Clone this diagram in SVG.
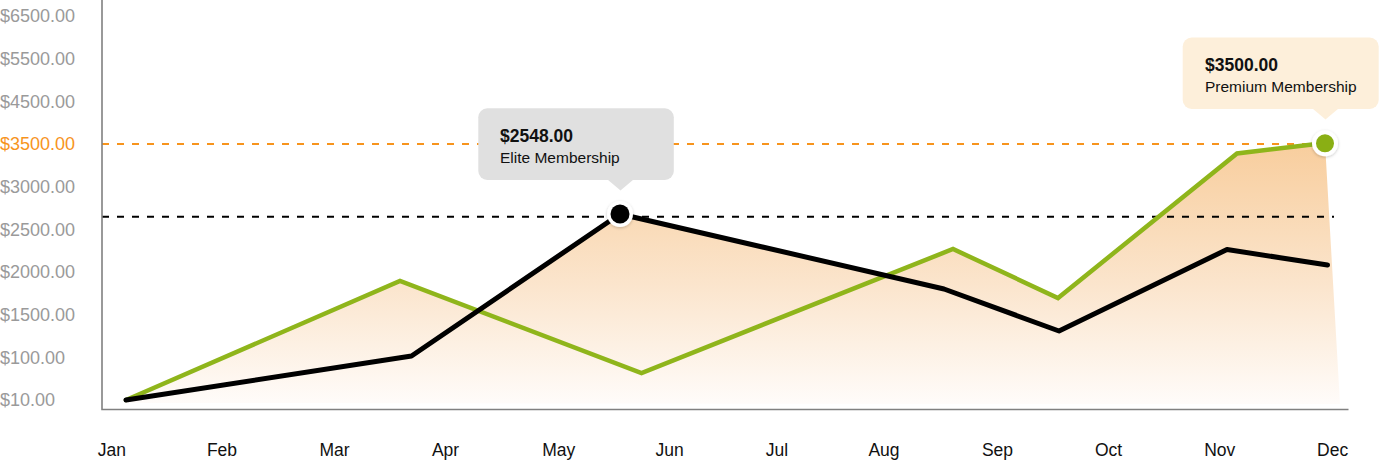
<svg xmlns="http://www.w3.org/2000/svg" width="1380" height="460" viewBox="0 0 1380 460">
  <style>
    .ylab { font-family: "Liberation Sans", Arial, Helvetica, sans-serif; font-size: 18px; fill: #9a9a9a; }
    .ylab.hl { fill: #f7941d; }
    .xlab { font-family: "Liberation Sans", Arial, Helvetica, sans-serif; font-size: 17.5px; fill: #111111; text-anchor: middle; }
    .tt-val { font-family: "Liberation Sans", Arial, Helvetica, sans-serif; font-size: 17.5px; font-weight: bold; fill: #111111; }
    .tt-name { font-family: "Liberation Sans", Arial, Helvetica, sans-serif; font-size: 15.5px; fill: #111111; }
    .axis { stroke: #808080; stroke-width: 1.6; fill: none; }
    .area { fill: url(#areaGrad); stroke: none; }
    .green { stroke: #8fb51b; stroke-width: 4.5; fill: none; stroke-linejoin: miter; stroke-linecap: round; }
    .black { stroke: #000000; stroke-width: 5; fill: none; stroke-linejoin: round; stroke-linecap: round; }
  </style>
  <defs>
    <linearGradient id="areaGrad" gradientUnits="userSpaceOnUse" x1="0" y1="140" x2="0" y2="405">
      <stop offset="0" stop-color="#f8cd9c"/>
      <stop offset="0.55" stop-color="#fbe5cd"/>
      <stop offset="1" stop-color="#fffcfa"/>
    </linearGradient>
    <filter id="shadow" x="-50%" y="-50%" width="200%" height="200%">
      <feDropShadow dx="0" dy="1" stdDeviation="1.6" flood-color="#000000" flood-opacity="0.22"/>
    </filter>
  </defs>

  <rect x="0" y="0" width="1380" height="460" fill="#ffffff"/>

  <g id="y-labels">
    <text class="ylab" x="0" y="22">$6500.00</text>
    <text class="ylab" x="0" y="65">$5500.00</text>
    <text class="ylab" x="0" y="107.5">$4500.00</text>
    <text class="ylab hl" x="0" y="150">$3500.00</text>
    <text class="ylab" x="0" y="193">$3000.00</text>
    <text class="ylab" x="0" y="235.5">$2500.00</text>
    <text class="ylab" x="0" y="278">$2000.00</text>
    <text class="ylab" x="0" y="321">$1500.00</text>
    <text class="ylab" x="0" y="363.5">$100.00</text>
    <text class="ylab" x="0" y="405.5">$10.00</text>
  </g>

  <g id="x-labels">
    <text class="xlab" x="111.8" y="456">Jan</text>
    <text class="xlab" x="222" y="456">Feb</text>
    <text class="xlab" x="334.5" y="456">Mar</text>
    <text class="xlab" x="445.5" y="456">Apr</text>
    <text class="xlab" x="558.8" y="456">May</text>
    <text class="xlab" x="669.7" y="456">Jun</text>
    <text class="xlab" x="777" y="456">Jul</text>
    <text class="xlab" x="884" y="456">Aug</text>
    <text class="xlab" x="997.5" y="456">Sep</text>
    <text class="xlab" x="1108.5" y="456">Oct</text>
    <text class="xlab" x="1219.8" y="456">Nov</text>
    <text class="xlab" x="1332.6" y="456">Dec</text>
  </g>

  <g id="area">
    <polygon class="area" points="126,400 400,281 641.5,373 953,249 1058,298 1237,153.5 1325,143 1340,404 126,403"/>
    <polygon class="area" points="126,400 411.5,356 620,214 944,289 1059,331 1227,249.5 1327.5,265 1330,404 126,403"/>
  </g>

  <g id="reference-lines">
    <line x1="102" y1="144" x2="1316" y2="144" stroke="#f7941d" stroke-width="2" stroke-dasharray="7 8"/>
    <line x1="102" y1="216.8" x2="1334" y2="216.8" stroke="#000000" stroke-width="2" stroke-dasharray="7 8"/>
  </g>

  <g id="axes">
    <polyline class="axis" points="102,0 102,409.5 1348.5,409.5"/>
  </g>

  <g id="connectors">
    <polyline id="premium-series" class="green" points="126,400 400,281 641.5,373 953,249 1058,298 1237,153.5 1325,143"/>
    <polyline id="elite-series" class="black" points="126,400 411.5,356 620,214 944,289 1059,331 1227,249.5 1327.5,265"/>
  </g>

  <g id="tooltip-elite">
    <rect x="478.3" y="108.3" width="195.5" height="71.7" rx="9" ry="9" fill="#e0e0e0"/>
    <polygon points="607.5,179.5 633.5,179.5 620.5,190.5" fill="#e0e0e0"/>
    <text class="tt-val" x="500" y="141.7">$2548.00</text>
    <text class="tt-name" x="500" y="162.5">Elite Membership</text>
  </g>

  <g id="tooltip-premium">
    <rect x="1182.7" y="37.5" width="196" height="71.5" rx="9" ry="9" fill="#fdefda"/>
    <polygon points="1312.5,108.5 1338.5,108.5 1325.5,119.5" fill="#fdefda"/>
    <text class="tt-val" x="1205" y="71">$3500.00</text>
    <text class="tt-name" x="1205" y="91.5">Premium Membership</text>
  </g>

  <g id="marker-elite">
    <circle cx="620" cy="214" r="13" fill="#ffffff" filter="url(#shadow)"/>
    <circle cx="620" cy="214" r="9.5" fill="#000000"/>
  </g>

  <g id="marker-premium">
    <circle cx="1325" cy="143.3" r="13" fill="#ffffff" filter="url(#shadow)"/>
    <circle cx="1325" cy="143.3" r="9" fill="#8aaf14"/>
  </g>
</svg>
